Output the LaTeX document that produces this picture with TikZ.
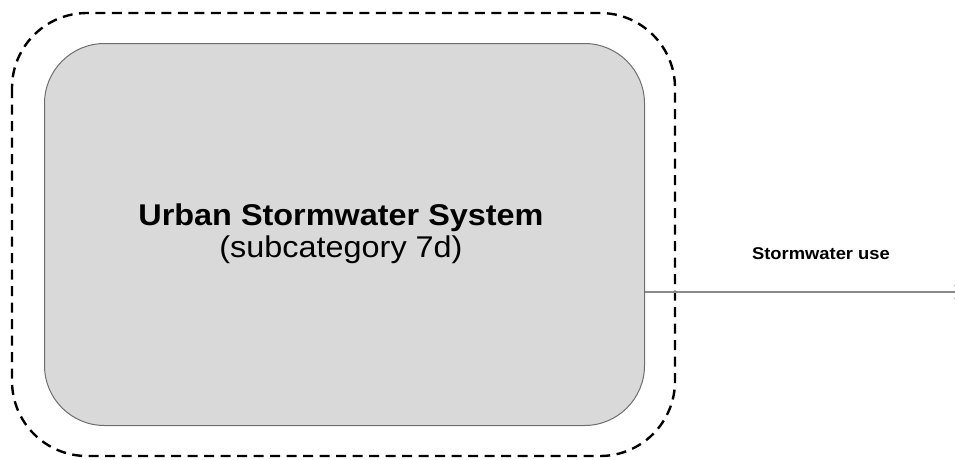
\documentclass[tikz,border=0pt]{standalone}
\usepackage{fontspec}
\setmainfont{Liberation Sans}
\newfontfamily\widesans[FakeStretch=1.08]{Liberation Sans}
\usetikzlibrary{arrows.meta}
\definecolor{boxfill}{HTML}{D9D9D9}
\definecolor{boxline}{HTML}{6E6E6E}
\definecolor{flowline}{HTML}{8A8A8A}
\tikzset{
  sysbox/.style={draw=boxline, fill=boxfill, line width=1pt, rounded corners=60pt},
  boundary/.style={draw=black, line width=2.4pt, dash pattern=on 10pt off 6.5pt, rounded corners=75pt},
  flow/.style={draw=flowline, line width=1.2pt, -{Straight Barb[length=6pt,width=14pt,line width=0.8pt]}},
  flowlabel/.style={font=\widesans\bfseries\fontsize{17}{20}\selectfont, inner sep=0pt},
  titletext/.style={font=\widesans\fontsize{30}{32}\selectfont, align=center, inner sep=0pt}
}
\begin{document}
\begin{tikzpicture}[x=1pt,y=-1pt]
\useasboundingbox (0,0) rectangle (955,459);
\draw[boundary] (12,13) rectangle (675,456);
\node[sysbox, minimum width=600pt, minimum height=382pt, anchor=north west] (sys) at (44,43) {};
\node[titletext] (title) at (341,234) {{\bfseries Urban Stormwater System}\\(subcategory 7d)};
\coordinate (out) at (961,292);
\draw[flow] (sys.east |- out) -- (out);
\node[flowlabel] (lbl) at (821,254) {Stormwater use};
\end{tikzpicture}
\end{document}
